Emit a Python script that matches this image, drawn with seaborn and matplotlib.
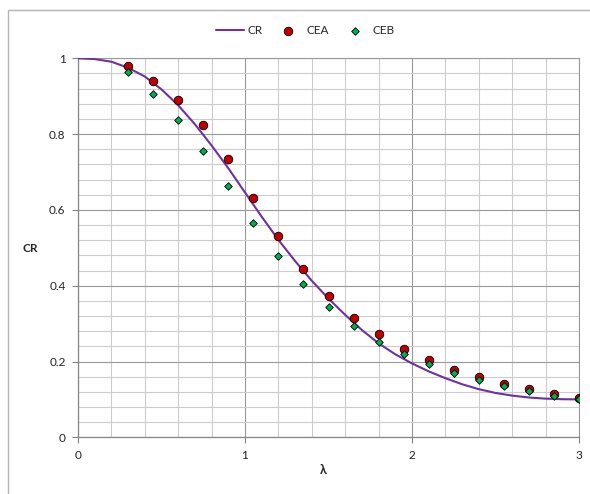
import numpy as np
import pandas as pd
import matplotlib
matplotlib.use("Agg")
import matplotlib.pyplot as plt
from matplotlib.patches import Rectangle
from matplotlib.ticker import MultipleLocator
import seaborn as sns

# curve CR, every 0.1
lam_curve = [0.0, 0.1, 0.2, 0.3, 0.4, 0.5, 0.6, 0.7, 0.8, 0.9, 1.0,
             1.1, 1.2, 1.3, 1.4, 1.5, 1.6, 1.7, 1.8, 1.9, 2.0,
             2.1, 2.2, 2.3, 2.4, 2.5, 2.6, 2.7, 2.8, 2.9, 3.0]
cr_curve = [1.000, 0.998, 0.991, 0.975, 0.952, 0.918, 0.876, 0.826, 0.770, 0.710, 0.646,
            0.582, 0.521, 0.465, 0.413, 0.366, 0.323, 0.283, 0.248, 0.219, 0.195,
            0.174, 0.156, 0.140, 0.127, 0.117, 0.110, 0.105, 0.102, 0.1005, 0.100]

# measured points
lam_pts = [0.3, 0.45, 0.6, 0.75, 0.9, 1.05, 1.2, 1.35, 1.5, 1.65,
           1.8, 1.95, 2.1, 2.25, 2.4, 2.55, 2.7, 2.85, 3.0]
cea = [0.979, 0.939, 0.890, 0.823, 0.734, 0.631, 0.530, 0.444, 0.373, 0.316,
       0.272, 0.234, 0.203, 0.178, 0.158, 0.141, 0.127, 0.114, 0.104]
ceb = [0.964, 0.907, 0.837, 0.755, 0.662, 0.566, 0.478, 0.404, 0.343, 0.293,
       0.252, 0.219, 0.193, 0.170, 0.150, 0.135, 0.121, 0.109, 0.101]

x_ticks = [0, 1, 2, 3]
y_ticks = [0, 0.2, 0.4, 0.6, 0.8, 1.0]
y_tick_labels = ["0", "0.2", "0.4", "0.6", "0.8", "1"]

sns.set_style("white")
plt.rcParams['font.family'] = ['Lato', 'DejaVu Sans']

W, H = 590, 494
fig = plt.figure(figsize=(W / 100, H / 100), dpi=100)
ax = fig.add_axes([78 / W, 1 - 437.3 / H, 501 / W, 379 / H])

# chart area border (cut off at right/bottom like the original)
fig.patches.append(Rectangle((8 / W, -0.1), 1.2, 1.1 - 10 / H, transform=fig.transFigure,
                             fill=False, edgecolor="#b4b4b4", linewidth=1.0, zorder=0))

df_curve = pd.DataFrame({"lam": lam_curve, "CR": cr_curve})
df_pts = pd.DataFrame({"lam": lam_pts, "CEA": cea, "CEB": ceb})

sns.lineplot(data=df_curve, x="lam", y="CR", ax=ax, color="#7030A0", linewidth=1.5,
             label="CR", zorder=3)
sns.scatterplot(data=df_pts, x="lam", y="CEA", ax=ax, color="#C00000", marker="o", s=38,
                edgecolor="black", linewidth=0.6, label="CEA", zorder=4)
sns.scatterplot(data=df_pts, x="lam", y="CEB", ax=ax, color="#00B050", marker="D", s=15,
                edgecolor="black", linewidth=0.6, label="CEB", zorder=5)

ax.set_xlim(0, 3)
ax.set_ylim(0, 1)
ax.set_xticks(x_ticks)
ax.set_xticklabels([str(v) for v in x_ticks])
ax.set_yticks(y_ticks)
ax.set_yticklabels(y_tick_labels)
ax.xaxis.set_minor_locator(MultipleLocator(0.2))
ax.yaxis.set_minor_locator(MultipleLocator(0.04))

ax.grid(which="minor", color="#cccccc", linewidth=0.8, zorder=0)
ax.grid(which="major", color="#999999", linewidth=0.8, zorder=0)
ax.set_axisbelow(True)

for side in ["top", "right"]:
    ax.spines[side].set_color("#999999")
    ax.spines[side].set_linewidth(0.8)
for side in ["left", "bottom"]:
    ax.spines[side].set_color("#868686")
    ax.spines[side].set_linewidth(0.9)

ax.tick_params(which="major", direction="out", length=4, width=0.8, color="#868686",
               labelsize=8.5, labelcolor="#222222", pad=5, left=True, bottom=True)
ax.tick_params(which="minor", length=0)

ax.set_xlabel("λ", fontsize=9, fontweight="bold")
ax.set_ylabel("CR", fontsize=8.5, fontweight="bold", rotation=0, va="center", ha="center")
ax.xaxis.set_label_coords((323 - 78) / 501, (437.3 - 464) / 379)
ax.yaxis.set_label_coords((30 - 78) / 501, (437.3 - 248) / 379)

ax.legend(loc="center", bbox_to_anchor=(305 / W, 1 - 31 / H), bbox_transform=fig.transFigure,
          ncol=3, frameon=False, fontsize=8.5, handlelength=2.4, handletextpad=0.3,
          columnspacing=1.0)

fig.savefig("out.png", dpi=100)
